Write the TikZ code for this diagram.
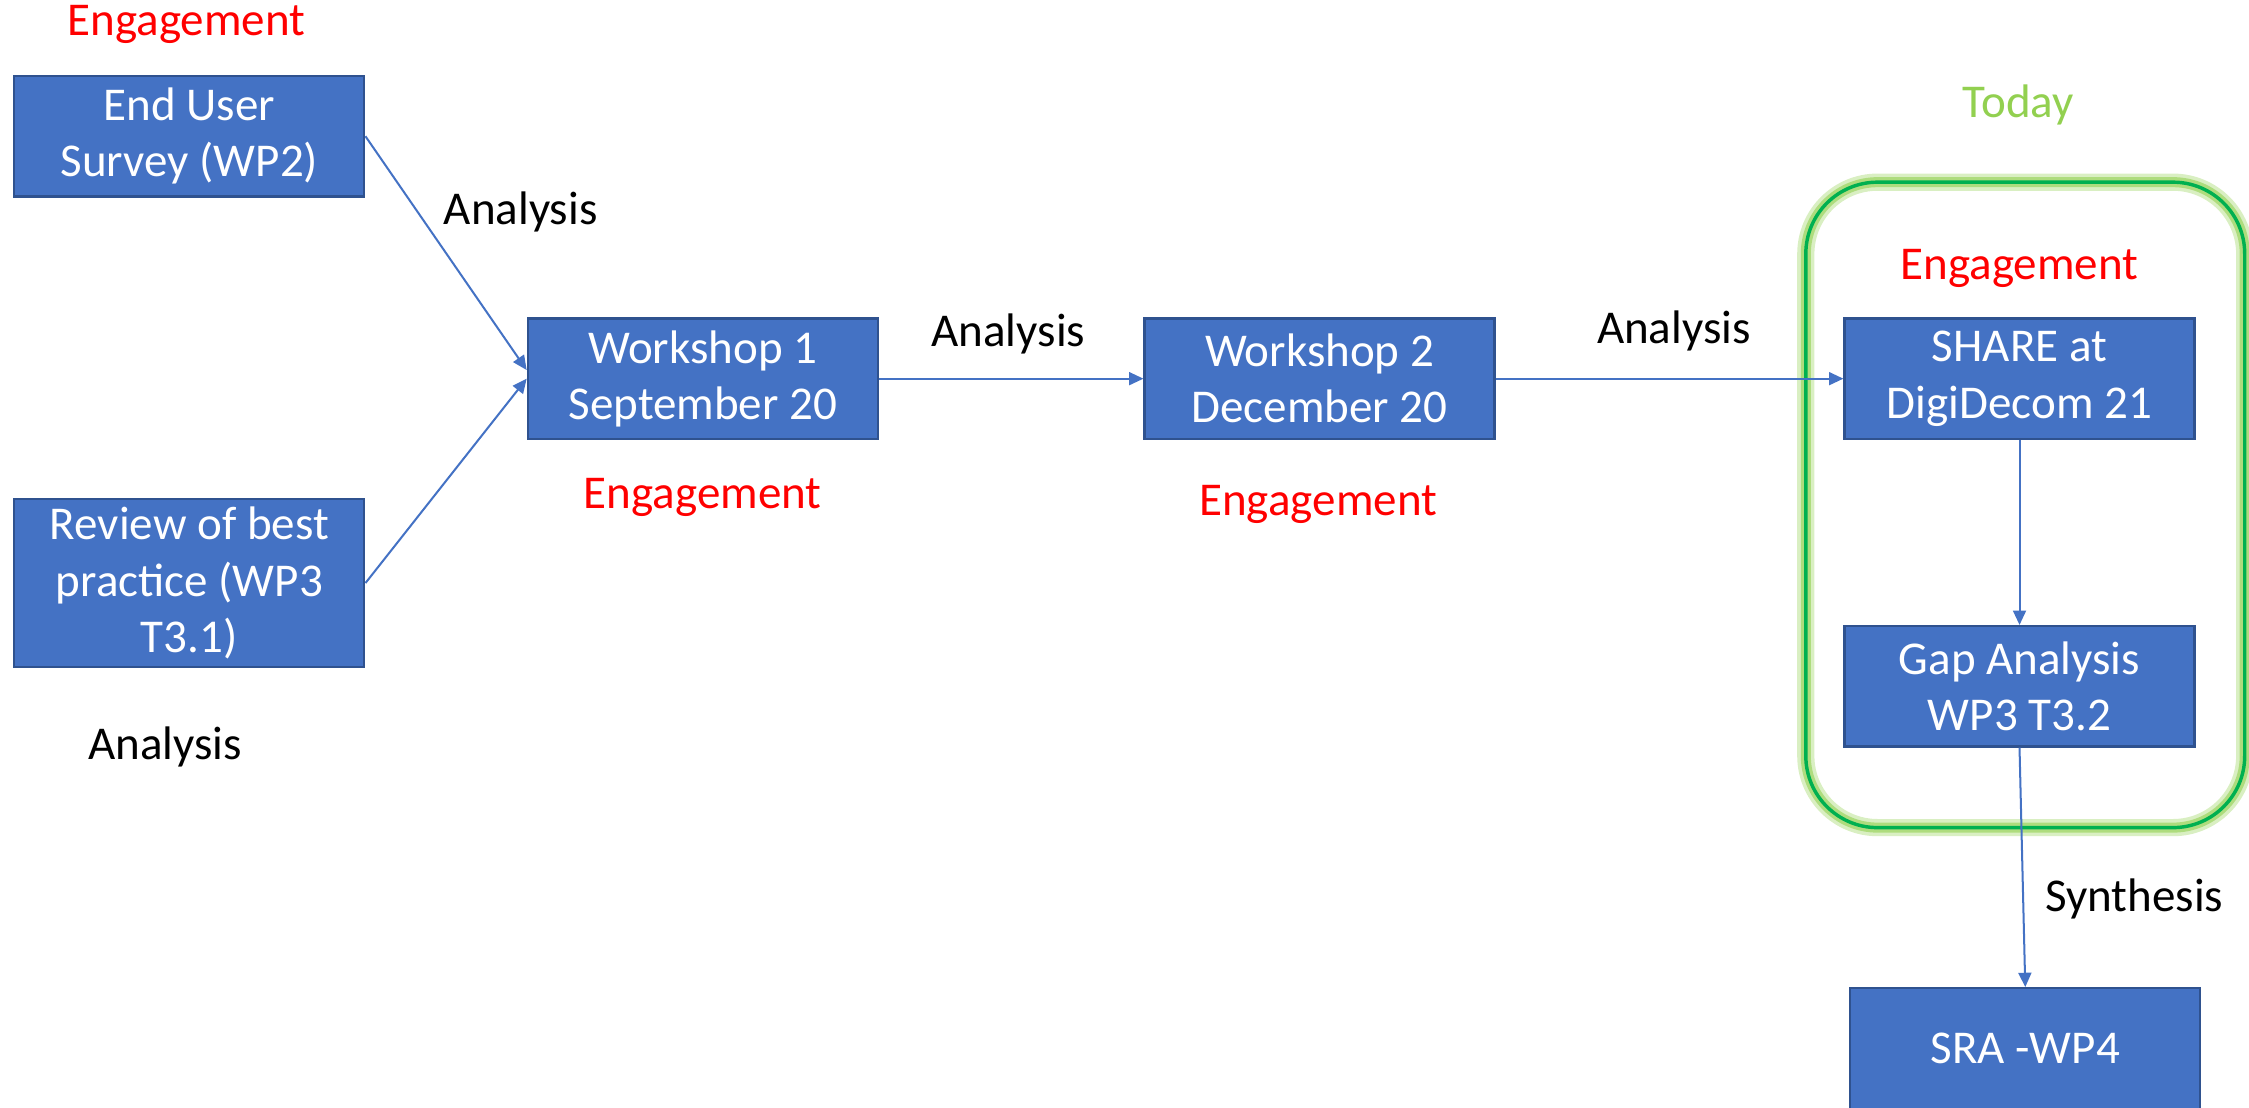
\documentclass[tikz,border=0pt]{standalone}
\usepackage{fontspec}
\setmainfont{Carlito}
\usetikzlibrary{arrows.meta}

\definecolor{officeblue}{HTML}{4472C4}
\definecolor{officeedge}{HTML}{2F528F}
\definecolor{todaygreen}{HTML}{92D050}
\definecolor{framegreen}{HTML}{00B050}

\def\boxwidth{122pt}
\def\boxheight{42pt}

\begin{document}
\begin{tikzpicture}[x=0.5pt,y=-0.5pt,
% Here are defined the blocks, the free words and the connectors
bloc/.style={
rectangle, draw=officeedge, line width=0.8pt,
fill=officeblue, text=white, align=center, inner sep=0,
minimum width=\boxwidth, minimum height=\boxheight,
font=\fontsize{16.4}{19.6}\selectfont },
bloc3/.style={
bloc,
minimum height=58.5pt },
word/.style={
inner sep=0, font=\fontsize{16.4}{19.6}\selectfont },
engage/.style={
word, text=red },
link/.style={
draw=officeblue, line width=0.7pt,
-{Triangle[length=5pt,width=4.5pt]} },
glow/.style={
rounded corners=25pt },
]
\useasboundingbox (0,0) rectangle (1568,772);

%%%%%%%%%%%%%%%%%%%%%%%%
%%% THE "TODAY" FRAME
%%%%%%%%%%%%%%%%%%%%%%%%
\draw[glow, todaygreen, line width=6pt, opacity=0.35] (1259,127) rectangle (1565,577);
\draw[glow, todaygreen, line width=3.5pt, opacity=0.6] (1259,127) rectangle (1565,577);
\draw[glow, framegreen, line width=1.2pt] (1259,127) rectangle (1565,577);
\node[word, text=todaygreen] (today) at (1407,73) {Today};

%%%%%%%%%%%%%%%%%%%%%%%%
%%% THE BLOCKS
%%%%%%%%%%%%%%%%%%%%%%%%

% the two inputs on the left
\node[bloc] (b0) at (132,95) {End User\\Survey (WP2)};
\node[engage] (e0) at (130,17) {Engagement};

\node[bloc3] (b1) at (132,406.5) {Review of best\\practice (WP3\\T3.1)};
\node[word] (a1) at (115,521) {Analysis};

% the two workshops
\node[bloc] (b2) at (490,264) {Workshop 1\\September 20};
\node[engage] (e2) at (490,347) {Engagement};

\node[bloc] (b3) at (920,264) {Workshop 2\\December 20};
\node[engage] (e3) at (919,352) {Engagement};

% inside the frame
\node[engage] (e4) at (1408,187) {Engagement};
\node[bloc] (b4) at (1408,264) {SHARE at\\DigiDecom 21};
\node[bloc] (b5) at (1408,478.5) {Gap Analysis\\WP3 T3.2};

% the output
\node[bloc] (b6) at (1412,731) {SRA -WP4};

%%%%%%%%%%%%%%%%%%%%%%%%
%%% THE CONNECTORS
%%%%%%%%%%%%%%%%%%%%%%%%
\draw[link] (b0.east) -- ([yshift=3pt]b2.west);
\draw[link] (b1.east) -- (b2.west);
\draw[link] (b2.east) -- (b3.west);
\draw[link] (b3.east) -- (b4.west);
\draw[link] (b4.south) -- (b5.north);
\draw[link] (b5.south) -- (b6.north);

\node[word] (a0) at (363,148) {Analysis};
\node[word] (a2) at (703,233) {Analysis};
\node[word] (a3) at (1167,231) {Analysis};
\node[word] (s5) at (1488,627) {Synthesis};

\end{tikzpicture}
\end{document}
